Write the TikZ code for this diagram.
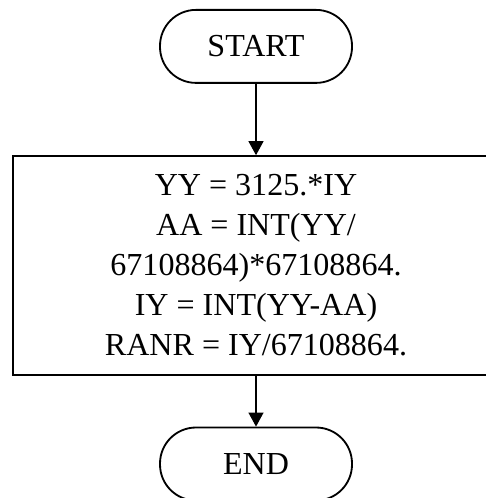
\documentclass[tikz,border=0pt]{standalone}
\usepackage{fontspec}
\setmainfont{Liberation Serif}
\usetikzlibrary{arrows.meta, positioning}

\begin{document}
\begin{tikzpicture}[
  font=\fontsize{22.8}{28.45}\selectfont,
  terminal/.style={rectangle, rounded corners=9mm, draw=black, line width=1.3pt, minimum width=4.8cm, minimum height=1.825cm, align=center},
  process/.style={rectangle, draw=black, line width=1.3pt, minimum width=12.15cm, minimum height=5.475cm, align=center},
  arr/.style={-{Triangle[width=3.75mm, length=3.5mm]}, line width=0.8pt, draw=black}
]

\useasboundingbox (0,0) rectangle (12.125,-12.45);

\node[terminal] (start) at (6.4, -1.16) {START};
\node[process] (calc) at (6.4, -6.64) {YY = 3125.*IY\\AA = INT(YY/\\67108864)*67108864.\\IY = INT(YY-AA)\\RANR = IY/67108864.};
\node[terminal] (stop) at (6.4, -11.6) {END};

\draw[arr] (start) -- (calc);
\draw[arr] (calc) -- (stop);

\end{tikzpicture}
\end{document}
